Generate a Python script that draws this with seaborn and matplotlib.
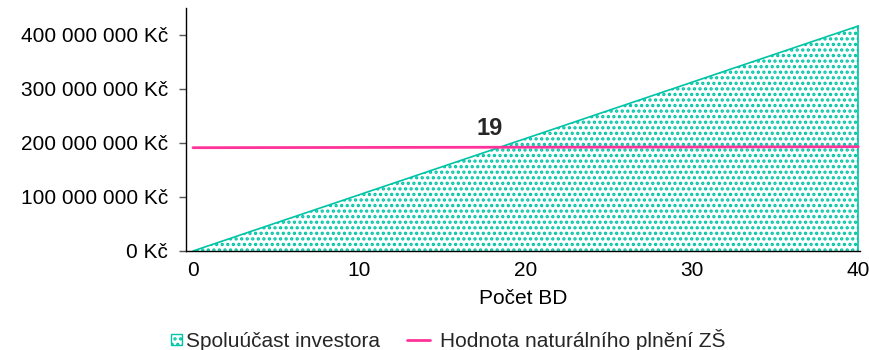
import matplotlib
matplotlib.use("Agg")
import matplotlib.pyplot as plt
import seaborn as sns
import pandas as pd
from matplotlib.patches import Rectangle
from matplotlib.lines import Line2D
from matplotlib.legend_handler import HandlerPatch, HandlerLine2D
from matplotlib.ticker import FuncFormatter, MultipleLocator

# Investor contribution grows with the number of flats (BD)
pocet_bd = [0, 40]
spoluucast = [0, 416_700_000]
# Value of the in-kind contribution (school)
hodnota_zs = [191_300_000, 193_100_000]
breakeven_label = "19"

teal = "#00C4A6"
pink = "#FF3399"
fs = 15

sns.set_theme(style="ticks")
plt.rcParams["font.family"] = ["Liberation Sans", "DejaVu Sans"]
plt.rcParams["hatch.linewidth"] = 1.6

df = pd.DataFrame({"Počet BD": pocet_bd,
                   "Spoluúčast investora": spoluucast,
                   "Hodnota naturálního plnění ZŠ": hodnota_zs})

fig = plt.figure(figsize=(8.69, 3.5), dpi=100)
ax = fig.add_axes([186 / 869, 1 - 251 / 350, (860 - 186) / 869, (251 - 8) / 350])

# hatched area for the investor contribution
ax.fill_between(df["Počet BD"], 0, df["Spoluúčast investora"],
                facecolor="white", edgecolor=teal, hatch="...", linewidth=0)
sns.lineplot(data=df, x="Počet BD", y="Spoluúčast investora", ax=ax,
             color=teal, linewidth=1.2)
ax.plot([pocet_bd[-1], pocet_bd[-1]], [0, spoluucast[-1]], color=teal, linewidth=1.2)

sns.lineplot(data=df, x="Počet BD", y="Hodnota naturálního plnění ZŠ", ax=ax,
             color=pink, linewidth=2.0)

# label at the crossing of the two series
slope = (spoluucast[1] - spoluucast[0]) / (pocet_bd[1] - pocet_bd[0])
x_cross = hodnota_zs[0] / slope
ax.annotate(breakeven_label, xy=(x_cross, hodnota_zs[0]), xytext=(-6, 14),
            textcoords="offset points", ha="center", va="center",
            fontsize=17, fontweight="bold",
            fontfamily=["Liberation Sans Narrow", "Liberation Sans"])

ax.set_xlim(-0.42, 40.1)
ax.set_ylim(0, 450_000_000)
ax.xaxis.set_major_locator(MultipleLocator(10))
ax.yaxis.set_major_locator(MultipleLocator(100_000_000))
ax.yaxis.set_major_formatter(FuncFormatter(
    lambda v, p: f"{v:,.0f} Kč".replace(",", " ")))

for s in ["top", "right"]:
    ax.spines[s].set_visible(False)
for s in ["left", "bottom"]:
    ax.spines[s].set_color("black")
    ax.spines[s].set_linewidth(1.0)

ax.tick_params(axis="y", length=5, width=1, color="#555555", pad=8, labelsize=fs,
               labelcolor="black")
ax.tick_params(axis="x", length=0, pad=7, labelsize=fs, labelcolor="black")
ax.set_xlabel("Počet BD", fontsize=fs, labelpad=7, color="black")
ax.set_ylabel("")


class SquareHandler(HandlerPatch):
    def create_artists(self, legend, orig_handle, xdescent, ydescent,
                       width, height, fontsize, trans):
        side = height * 0.75
        r = Rectangle((width - side - xdescent, (height - side) / 2 - ydescent), side, side,
                      facecolor="white", edgecolor=teal, hatch="...",
                      linewidth=1.0, transform=trans)
        return [r]


class ShortLineHandler(HandlerLine2D):
    def create_artists(self, legend, orig_handle, xdescent, ydescent,
                       width, height, fontsize, trans):
        y = (height - ydescent) / 2
        ln = Line2D([-xdescent, width - xdescent - 5], [y, y], color=pink,
                    linewidth=2.0, transform=trans)
        return [ln]


handles = [Rectangle((0, 0), 1, 1), Line2D([], [], color=pink, linewidth=2.0)]
labels = ["Spoluúčast investora", "Hodnota naturálního plnění ZŠ"]
fig.legend(handles, labels, loc="center", bbox_to_anchor=(0.505, 10 / 350),
           ncol=2, frameon=False, fontsize=fs, handlelength=1.45,
           handletextpad=0.15, columnspacing=1.3,
           handler_map={Rectangle: SquareHandler(), Line2D: ShortLineHandler()})

fig.savefig("out.png", dpi=100)
